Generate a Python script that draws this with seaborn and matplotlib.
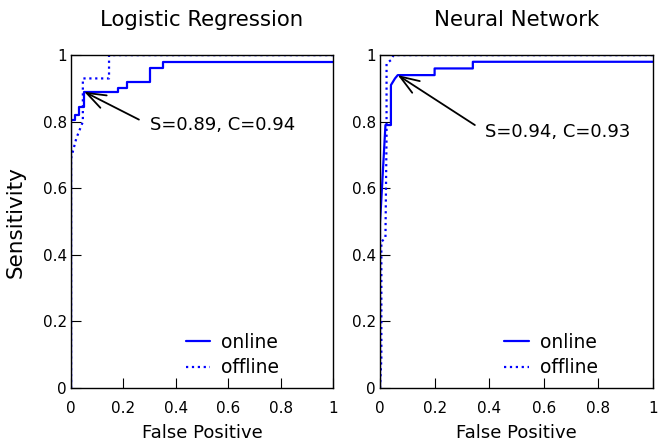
import matplotlib
matplotlib.use("Agg")
import matplotlib.pyplot as plt
import pandas as pd
import seaborn as sns

# ROC points (false positive rate, sensitivity)
lr_online_fp = [0, 0, 0.015, 0.015, 0.03, 0.03, 0.05, 0.05, 0.18, 0.18, 0.215, 0.215, 0.30, 0.30, 0.35, 0.35, 1.0]
lr_online_se = [0, 0.805, 0.805, 0.82, 0.82, 0.845, 0.845, 0.89, 0.89, 0.90, 0.90, 0.92, 0.92, 0.96, 0.96, 0.98, 0.98]
lr_offline_fp = [0, 0, 0.02, 0.035, 0.045, 0.045, 0.145, 0.145, 1.0]
lr_offline_se = [0, 0.69, 0.75, 0.78, 0.80, 0.93, 0.93, 1.0, 1.0]

nn_online_fp = [0, 0, 0.02, 0.04, 0.04, 0.055, 0.065, 0.20, 0.20, 0.34, 0.34, 1.0]
nn_online_se = [0, 0.495, 0.79, 0.79, 0.91, 0.93, 0.94, 0.94, 0.96, 0.96, 0.98, 0.98]
nn_offline_fp = [0, 0.005, 0.005, 0.02, 0.024, 0.024, 0.04, 0.05, 1.0]
nn_offline_se = [0, 0.09, 0.44, 0.45, 0.76, 0.975, 0.985, 1.0, 1.0]

titles = ["Logistic Regression", "Neural Network"]
best_points = [(0.05, 0.89), (0.065, 0.94)]
best_labels = ["S=0.89, C=0.94", "S=0.94, C=0.93"]
text_pos = [(0.30, 0.79), (0.385, 0.77)]
ticks = [0, 0.2, 0.4, 0.6, 0.8, 1]
tick_labels = ["0", "0.2", "0.4", "0.6", "0.8", "1"]

sns.set_style("white")
plt.rcParams.update({
    "xtick.direction": "in",
    "ytick.direction": "in",
    "xtick.bottom": True,
    "ytick.left": True,
    "xtick.major.size": 7,
    "ytick.major.size": 7,
    "axes.edgecolor": "black",
    "axes.linewidth": 1.0,
    "xtick.color": "black",
    "ytick.color": "black",
    "text.color": "black",
    "axes.labelcolor": "black",
})

fig = plt.figure(figsize=(6.58, 4.41), dpi=100)
ax1 = fig.add_axes([0.108, 0.120, 0.398, 0.755])
ax2 = fig.add_axes([0.5775, 0.120, 0.415, 0.755])

series = [
    (lr_online_fp, lr_online_se, lr_offline_fp, lr_offline_se),
    (nn_online_fp, nn_online_se, nn_offline_fp, nn_offline_se),
]

for i, ax in enumerate([ax1, ax2]):
    on_fp, on_se, off_fp, off_se = series[i]
    on = pd.DataFrame({"fp": on_fp, "se": on_se})
    off = pd.DataFrame({"fp": off_fp, "se": off_se})
    sns.lineplot(data=on, x="fp", y="se", ax=ax, sort=False, estimator=None,
                 color="#0000ff", linewidth=1.6, label="online")
    sns.lineplot(data=off, x="fp", y="se", ax=ax, sort=False, estimator=None,
                 color="#0000ff", linewidth=1.6, linestyle=":", label="offline")
    ax.set_xlim(0, 1)
    ax.set_ylim(0, 1)
    ax.set_xticks(ticks)
    ax.set_xticklabels(tick_labels)
    ax.set_yticks(ticks)
    ax.set_yticklabels(tick_labels)
    ax.tick_params(axis="x", labelsize=11, pad=9)
    ax.tick_params(axis="y", labelsize=11, pad=3)
    ax.set_title(titles[i], fontsize=15.3, pad=21)
    ax.set_xlabel("False Positive", fontsize=13, labelpad=6)
    ax.set_ylabel("")
    ax.annotate(best_labels[i], xy=best_points[i], xytext=text_pos[i],
                fontsize=13, va="center",
                arrowprops=dict(arrowstyle="->, head_length=0.55, head_width=0.2",
                                color="black", lw=1.3,
                                mutation_scale=25, shrinkA=6, shrinkB=0,
                                relpos=(0, 0.5)))
    ax.legend(loc="lower right", frameon=False, fontsize=13.5,
              handlelength=1.3, handletextpad=0.6, labelspacing=0.35,
              bbox_to_anchor=(0.86, -0.018))

ax1.set_ylabel("Sensitivity", fontsize=15.5, labelpad=12)

plt.savefig("out.png", dpi=100)
